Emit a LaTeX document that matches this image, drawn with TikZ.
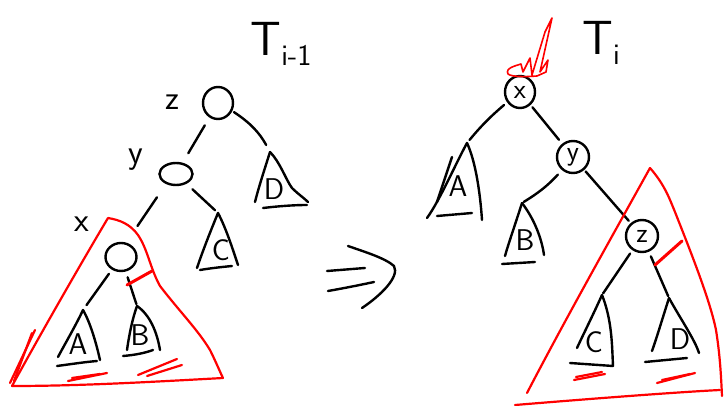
\documentclass[tikz,border=0pt]{standalone}
\usetikzlibrary{shapes.geometric}
\begin{document}
\begin{tikzpicture}[x=1pt,y=-1pt]
\tikzset{
 ink/.style={line width=2.4pt, line cap=round, line join=round, black},
 redink/.style={line width=2.2pt, line cap=round, line join=round, red},
 tnode/.style={ellipse, draw, line width=2.4pt, inner sep=0pt, font=\sffamily\fontsize{28}{28}\selectfont},
 lbl/.style={font=\sffamily\fontsize{34}{34}\selectfont, inner sep=0pt},
 biglbl/.style={font=\sffamily\fontsize{30}{30}\selectfont, inner sep=0pt},
 title/.style={font=\sffamily\fontsize{48}{48}\selectfont, inner sep=0pt},
}
\useasboundingbox (0,0) rectangle (724,406);

% ---------- titles
\node[title] (t1) at (281,44) {T\raisebox{-10pt}{\fontsize{30}{30}\selectfont i-1}};
\node[title] (t2) at (601,43) {T\raisebox{-10pt}{\fontsize{30}{30}\selectfont i}};

% ---------- left tree
\node[tnode, minimum width=30pt, minimum height=32pt] (zL) at (218,103) {};
\node[lbl] (zLl) at (172,102) {z};
\node[tnode, minimum width=33pt, minimum height=22pt] (yL) at (176,174) {};
\node[lbl] (yLl) at (136,160) {y};
\node[tnode, minimum width=31pt, minimum height=28pt] (xL) at (121,257) {};
\node[lbl] (xLl) at (82,224) {x};

\coordinate (DL) at (270,152);
\coordinate (CL) at (218,213);
\coordinate (AL) at (83,310);
\coordinate (BL) at (137,306);

% D
\draw[ink] (DL) .. controls (265,168) and (259,186) .. (255,202);
\draw[ink] (DL) .. controls (280,162) and (286,180) .. (292,188) .. controls (298,194) and (304,198) .. (308,202);
\draw[ink] (263,208) .. controls (280,206) and (295,205) .. (307,205);
\node[biglbl] (DLl) at (274,189) {D};
% C
\draw[ink] (CL) .. controls (211,230) and (203,250) .. (197,268);
\draw[ink] (CL) .. controls (226,228) and (233,250) .. (238,265);
\draw[ink] (200,270) .. controls (212,268) and (222,267) .. (232,266);
\node[biglbl] (CLl) at (221,250) {C};
% A
\draw[ink] (AL) .. controls (76,325) and (66,342) .. (58,357);
\draw[ink] (AL) .. controls (90,322) and (96,342) .. (100,360);
\draw[ink] (57,366) .. controls (72,364) and (85,362) .. (97,361);
\node[biglbl] (ALl) at (78,344) {A};
% B
\draw[ink] (BL) .. controls (132,320) and (129,336) .. (127,350);
\draw[ink] (BL) .. controls (150,315) and (157,332) .. (160,350);
\draw[ink] (123,356) .. controls (135,355) and (145,353) .. (153,350);
\node[biglbl] (BLl) at (140,335) {B};

% edges left
\draw[ink, shorten <=9pt, shorten >=11pt] (zL) -- (yL);
\draw[ink, shorten <=2pt, shorten >=8pt] (zL) to[bend left=14] (DL);
\draw[ink, shorten <=16pt, shorten >=20pt] (yL.225) -- (xL.70);
\draw[ink, shorten <=8pt, shorten >=4pt] (yL) -- (CL);
\draw[ink, shorten <=5pt, shorten >=6pt] (xL) -- (AL);
\draw[ink, shorten <=6pt, shorten >=2pt] (xL) -- (BL);

% red triangle left
\draw[redink] (108,218) .. controls (120,220) and (130,224) .. (138,235)
  .. controls (148,250) and (150,268) .. (160,286)
  .. controls (180,312) and (198,330) .. (210,350)
  .. controls (216,362) and (220,372) .. (223,378)
  .. controls (150,382) and (80,386) .. (12,386)
  .. controls (40,335) and (80,265) .. (108,218);
\draw[redink, line width=3pt] (127,285) -- (152,271);
\draw[redink] (10,383) -- (35,330);
\draw[redink] (14,381) -- (32,333);
\draw[redink] (68,381) -- (107,373);
\draw[redink] (72,378) -- (100,374);
\draw[redink] (138,375) -- (177,359);
\draw[redink] (147,376) -- (182,365);

% ---------- arrow
\draw[ink] (327,271) .. controls (340,270) and (352,269) .. (365,268);
\draw[ink] (328,291) .. controls (345,288) and (360,285) .. (374,282);
\draw[ink] (348,246) .. controls (365,252) and (385,258) .. (394,266) .. controls (400,277) and (380,296) .. (362,308);

% ---------- right tree
\node[tnode, minimum width=30pt, minimum height=32pt] (xR) at (520,92) {x};
\node[tnode, minimum width=32pt, minimum height=32pt] (yR) at (573,157) {y};
\node[tnode, minimum width=32pt, minimum height=32pt] (zR) at (642,236) {z};

\coordinate (AR) at (467,143);
\coordinate (BR) at (522,203);
\coordinate (CR) at (602,295);
\coordinate (DR) at (669,298);

% A
\draw[ink] (AR) .. controls (455,165) and (440,200) .. (427,218);
\draw[ink] (452,157) -- (437,202);
\draw[ink] (AR) .. controls (475,160) and (480,190) .. (482,220);
\draw[ink] (437,216) -- (472,213);
\node[biglbl] (ARl) at (458,186) {A};
% B
\draw[ink] (BR) .. controls (515,225) and (508,245) .. (505,256);
\draw[ink] (BR) .. controls (535,220) and (542,240) .. (544,255);
\draw[ink] (502,264) -- (535,262);
\node[biglbl] (BRl) at (525,240) {B};
% C
\draw[ink] (CR) .. controls (593,315) and (583,335) .. (577,348);
\draw[ink] (CR) .. controls (612,320) and (612,345) .. (613,366);
\draw[ink] (570,363) -- (613,366);
\node[biglbl] (CRl) at (594,342) {C};
% D
\draw[ink] (DR) .. controls (662,320) and (656,340) .. (652,351);
\draw[ink] (DR) .. controls (680,318) and (695,340) .. (699,353);
\draw[ink] (645,362) -- (687,358);
\node[biglbl] (DRl) at (680,339) {D};

% edges right
\draw[ink, shorten <=4pt, shorten >=4pt] (xR) to[bend right=5] (AR);
\draw[ink, shorten <=3pt, shorten >=5pt] (xR) -- (yR);
\draw[ink, shorten <=6pt, shorten >=2pt] (yR) to[bend left=8] (BR);
\draw[ink, shorten <=2pt, shorten >=3pt] (yR) -- (zR);
\draw[ink, shorten <=4pt, shorten >=2pt] (zR) -- (CR);
\draw[ink, shorten <=5pt, shorten >=2pt] (zR) -- (DR);

% red triangle right
\draw[redink] (650,168) .. controls (610,240) and (565,320) .. (527,393);
\draw[redink] (650,168) .. controls (665,185) and (670,200) .. (675,212)
  .. controls (690,250) and (710,300) .. (716,330)
  .. controls (720,355) and (721,375) .. (722,396);
\draw[redink] (515,405) .. controls (600,398) and (680,392) .. (720,390);
\draw[redink, line width=3pt] (655,265) -- (682,241);
\draw[redink] (574,380) -- (605,374);
\draw[redink] (576,377) -- (602,372);
\draw[redink] (657,383) -- (695,373);
\draw[redink] (662,380) -- (690,374);

% red scribble on x
\draw[redink, line width=1.6pt] (508,74) .. controls (505,68) and (515,66) .. (521,64)
  -- (523,72) -- (530,58) -- (532,75) -- (545,32) -- (552,18) -- (540,72)
  -- (548,60) -- (546,72) -- (537,76) .. controls (525,77) and (512,77) .. (508,74);
\end{tikzpicture}
\end{document}
